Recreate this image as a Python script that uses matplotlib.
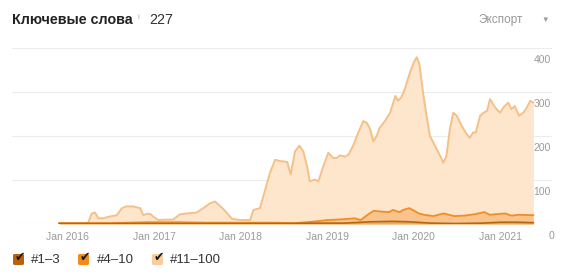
import matplotlib.pyplot as plt
import numpy as np
from matplotlib.lines import Line2D
from matplotlib.patches import FancyBboxPatch


# decimal years
TOP_DATES = [
    2015.905, 2016.237, 2016.28, 2016.318, 2016.356, 2016.41, 2016.49, 2016.57,
    2016.63, 2016.68, 2016.76, 2016.84, 2016.876, 2016.916, 2016.954, 2016.99,
    2017.05, 2017.147, 2017.22, 2017.30, 2017.378, 2017.49, 2017.57, 2017.647,
    2017.705, 2017.763, 2017.82, 2017.90, 2017.994, 2018.11, 2018.15, 2018.225,
    2018.34, 2018.40, 2018.457, 2018.54, 2018.58, 2018.63, 2018.68, 2018.726,
    2018.77, 2018.80, 2018.86, 2018.90, 2018.957, 2019.015, 2019.07, 2019.11,
    2019.15, 2019.21, 2019.25, 2019.30, 2019.36, 2019.42, 2019.46, 2019.50,
    2019.535, 2019.575, 2019.61, 2019.67, 2019.73, 2019.79, 2019.82, 2019.86,
    2019.90, 2019.96, 2020.006, 2020.037, 2020.067, 2020.11, 2020.15, 2020.19,
    2020.25, 2020.31, 2020.345, 2020.38, 2020.42, 2020.46, 2020.50, 2020.557,
    2020.615, 2020.65, 2020.69, 2020.72, 2020.77, 2020.81, 2020.85, 2020.885,
    2020.92, 2020.96, 2021.0, 2021.04, 2021.095, 2021.13, 2021.17, 2021.22,
    2021.27, 2021.31, 2021.35, 2021.385,
]
TOP_VALUES = [
    2, 2, 24, 26, 13, 13, 17, 20,
    36, 40, 40, 36, 20, 23, 23, 17,
    9, 10, 10, 22, 24, 26, 36, 47,
    51, 41, 30, 12, 9, 9, 32, 36,
    116, 146, 143, 141, 112, 165, 178, 165,
    131, 97, 101, 97, 131, 162, 150, 150,
    156, 153, 158, 177, 207, 234, 230, 215,
    188, 200, 219, 234, 253, 291, 280, 288,
    307, 345, 368, 379, 364, 299, 246, 200,
    177, 154, 139, 154, 215, 253, 246, 223,
    204, 196, 208, 208, 246, 253, 257, 284,
    272, 261, 253, 265, 276, 261, 268, 246,
    253, 265, 280, 276,
]

MID_DATES = [
    2015.905, 2016.5, 2016.9, 2017.3, 2017.6, 2018.0, 2018.4, 2018.63,
    2018.82, 2019.01, 2019.20, 2019.32, 2019.39, 2019.47, 2019.54, 2019.64,
    2019.72, 2019.76, 2019.84, 2019.88, 2019.95, 2020.01, 2020.06, 2020.12,
    2020.23, 2020.35, 2020.41, 2020.47, 2020.59, 2020.70, 2020.82, 2020.88,
    2020.94, 2021.06, 2021.13, 2021.22, 2021.385,
]
MID_VALUES = [
    2, 2, 4, 4, 3, 3, 3, 2,
    5, 9, 11, 13, 9, 21, 30, 28,
    27, 32, 27, 32, 36, 30, 24, 21,
    18, 24, 21, 18, 19, 22, 27, 21,
    22, 24, 19, 21, 20,
]

LOW_DATES = [
    2015.905, 2016.5, 2017.0, 2017.5, 2018.0, 2018.5, 2018.9, 2019.2,
    2019.5, 2019.75, 2019.95, 2020.2, 2020.5, 2020.8, 2021.0, 2021.2,
    2021.385,
]
LOW_VALUES = [
    1, 1, 1, 1, 1, 1, 2, 2,
    5, 6, 5, 2, 1, 2, 4, 4,
    3,
]

YEAR_TICKS = [2016, 2017, 2018, 2019, 2020, 2021]
YEAR_LABELS = ["Jan 2016", "Jan 2017", "Jan 2018", "Jan 2019", "Jan 2020", "Jan 2021"]
Y_TICKS = [0, 100, 200, 300, 400]
LEGEND_LABELS = ["#1\u20133", "#4\u201310", "#11\u2013100"]

COLOR_TOP = "#f5c088"
COLOR_MID = "#ef8d26"
COLOR_LOW = "#b8650f"
BOX_COLORS = ["#b8620f", "#f28b1c", "#f9cc9a"]

plt.rcParams["font.family"] = ["Liberation Sans", "DejaVu Sans"]

fig = plt.figure(figsize=(5.69, 2.8), dpi=100)
fig.patch.set_facecolor("white")
ax = fig.add_axes([12 / 569, 0.2, 540 / 569, 176 / 280])

ax.fill_between(TOP_DATES, TOP_VALUES, color="#fde5ca", alpha=0.95, lw=0)
ax.plot(TOP_DATES, TOP_VALUES, color=COLOR_TOP, lw=1.4)
ax.fill_between(MID_DATES, MID_VALUES, color="#f8bf80", alpha=0.85, lw=0)
ax.plot(MID_DATES, MID_VALUES, color=COLOR_MID, lw=1.3)
ax.fill_between(LOW_DATES, LOW_VALUES, color="#e89a50", alpha=0.6, lw=0)
ax.plot(LOW_DATES, LOW_VALUES, color=COLOR_LOW, lw=1.2)

ax.set_xlim(2015.358, 2021.601)
ax.set_ylim(0, 400)
for value in Y_TICKS:
    ax.axhline(value, color="#ececec" if value else "#dcdcdc", lw=0.8, zorder=0)
    ax.text(1.004 if value == 0 else 0.998, value - 17, str(value),
            transform=ax.get_yaxis_transform(), ha="right", va="top",
            fontsize=7.5, color="#9a9a9a")

ax.set_xticks(YEAR_TICKS)
ax.set_xticklabels(YEAR_LABELS)
ax.tick_params(axis="x", length=0, pad=6, labelsize=7.5, labelcolor="#9a9a9a")
ax.set_yticks([])
for spine in ax.spines.values():
    spine.set_visible(False)

# header
head_y = 1 - 20 / 280
fig.text(12 / 569, head_y, "Ключевые слова", fontsize=10.3, fontweight="bold",
         color="#222222", va="center")
fig.text(138 / 569, head_y + 0.008, "i", fontsize=5.5, color="#aaaaaa", va="center")
fig.text(149 / 569, head_y, "227", fontsize=10.3, color="#333333", va="center")
fig.text(478 / 569, head_y, "Экспорт", fontsize=8.5, color="#999999", va="center")
fig.text(541 / 569, head_y, "\u25bc", fontsize=5.5, color="#999999", va="center")

# legend with check boxes
box_x = [13, 78, 152]
text_x = [31, 97, 170]
for i, label in enumerate(LEGEND_LABELS):
    fig.patches.append(FancyBboxPatch((box_x[i] / 569, 1 - 265 / 280), 11 / 569, 11 / 280,
                                      boxstyle="round,pad=0,rounding_size=0.004",
                                      transform=fig.transFigure, facecolor=BOX_COLORS[i],
                                      edgecolor="none"))
    fig.text((box_x[i] + 6.5) / 569, 1 - 257 / 280, "\u2714", fontsize=9, color="#1a1a1a",
             ha="center", va="center", family=["DejaVu Sans"])
    fig.text(text_x[i] / 569, 1 - 260 / 280, label, fontsize=9.5, color="#333333",
             va="center")

fig.savefig("out.png", dpi=100, facecolor="white")
